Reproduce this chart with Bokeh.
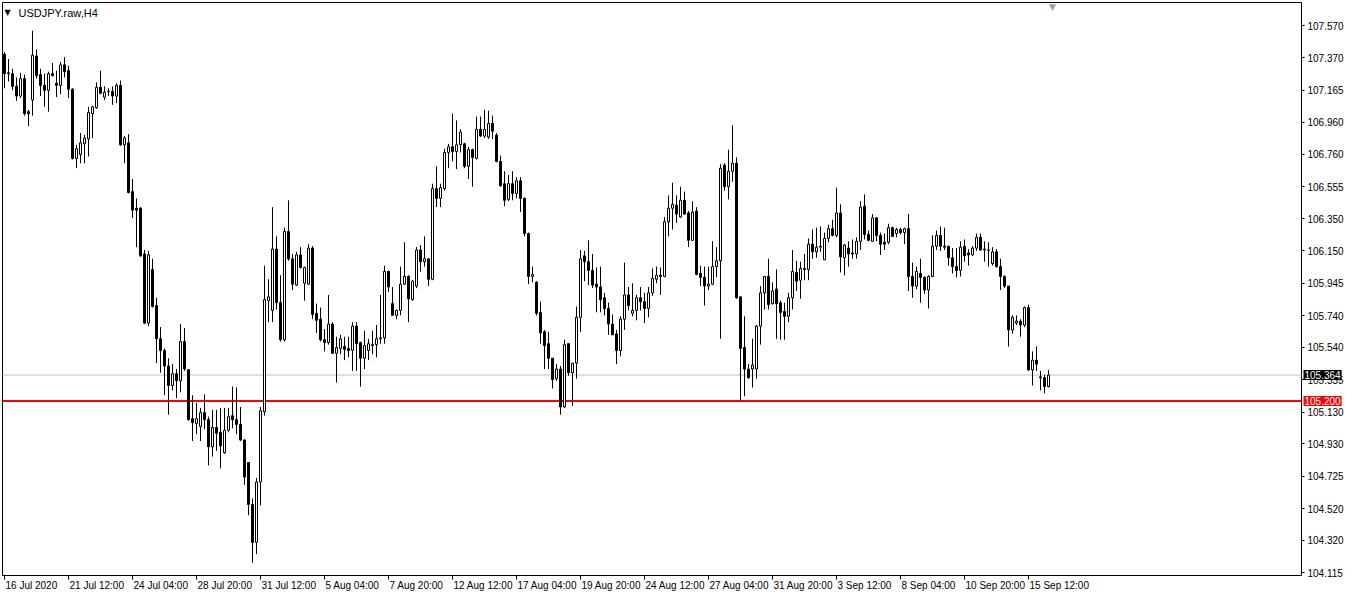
from bokeh.plotting import figure
from bokeh.models import Range1d, FixedTicker, Label, NumeralTickFormatter, BoxAnnotation
from bokeh.embed import file_html
from bokeh.resources import INLINE

symbol_title = "USDJPY.raw,H4"

opens = [107.391, 107.268, 107.268, 107.188, 107.127, 107.237, 107.028, 107.102, 107.379, 107.262,
         107.194, 107.163, 107.268, 107.207, 107.194, 107.324, 107.287, 107.170, 106.733, 106.757,
         106.825, 106.856, 107.016, 107.053, 107.182, 107.120, 107.157, 107.157, 107.127, 107.194,
         106.819, 106.831, 106.523, 106.418, 106.418, 106.129, 105.692, 106.031, 105.803, 105.593,
         105.519, 105.421, 105.298, 105.372, 105.328, 105.575, 105.398, 105.088, 105.058, 105.039,
         105.126, 105.082, 104.910, 105.033, 105.002, 104.873, 105.015, 105.107, 105.082, 105.052,
         104.953, 104.811, 104.546, 104.306, 104.688, 105.132, 105.834, 105.772, 106.160, 105.821,
         105.587, 106.271, 106.098, 105.932, 106.123, 105.944, 105.938, 106.166, 105.754, 105.717,
         105.587, 105.569, 105.686, 105.501, 105.532, 105.544, 105.532, 105.519, 105.673, 105.569,
         105.470, 105.519, 105.550, 105.556, 105.593, 105.599, 106.018, 105.815, 105.741, 105.772,
         105.938, 105.987, 105.840, 105.926, 106.154, 106.080, 106.098, 105.969, 106.542, 106.480,
         106.542, 106.770, 106.806, 106.776, 106.819, 106.825, 106.683, 106.788, 106.733, 106.917,
         106.874, 106.868, 106.954, 106.880, 106.714, 106.573, 106.474, 106.573, 106.511, 106.591,
         106.480, 106.258, 105.987, 105.950, 105.760, 105.637, 105.562, 105.470, 105.341, 105.402,
         105.162, 105.562, 105.378, 105.439, 105.729, 106.117, 106.080, 106.025, 105.938, 105.920,
         105.852, 105.784, 105.686, 105.624, 105.519, 105.717, 105.870, 105.754, 105.772, 105.852,
         105.827, 105.784, 105.883, 105.969, 105.994, 105.987, 106.332, 106.418, 106.437, 106.363,
         106.468, 106.388, 106.215, 106.400, 106.006, 105.981, 105.926, 105.938, 106.049, 106.086,
         106.690, 106.554, 106.652, 106.702, 105.858, 105.538, 105.402, 105.402, 105.402, 105.673,
         105.883, 105.987, 105.815, 105.907, 105.821, 105.766, 105.735, 105.852, 106.012, 105.963,
         106.037, 106.031, 106.191, 106.142, 106.172, 106.092, 106.227, 106.289, 106.246, 106.388,
         106.105, 106.166, 106.135, 106.129, 106.209, 106.431, 106.252, 106.209, 106.357, 106.246,
         106.203, 106.203, 106.295, 106.258, 106.283, 106.264, 106.289, 105.987, 105.926, 106.006,
         105.981, 105.901, 105.987, 106.178, 106.246, 106.178, 106.178, 106.105, 106.049, 106.025,
         106.178, 106.135, 106.123, 106.166, 106.234, 106.160, 106.154, 106.068, 106.142, 106.049,
         105.987, 105.926, 105.649, 105.692, 105.704, 105.680, 105.790, 105.396, 105.458, 105.347,
         105.347, 105.291]

highs = [107.404, 107.361, 107.299, 107.244, 107.274, 107.262, 107.040, 107.539, 107.422, 107.299,
         107.268, 107.281, 107.336, 107.287, 107.342, 107.373, 107.318, 107.176, 106.819, 106.893,
         106.880, 107.059, 107.065, 107.213, 107.287, 107.188, 107.176, 107.188, 107.207, 107.225,
         106.874, 106.886, 106.603, 106.480, 106.425, 106.154, 106.148, 106.098, 105.852, 105.667,
         105.532, 105.470, 105.433, 105.402, 105.686, 105.661, 105.402, 105.236, 105.187, 105.156,
         105.242, 105.101, 105.144, 105.144, 105.156, 105.156, 105.156, 105.291, 105.285, 105.162,
         104.959, 104.811, 104.584, 104.713, 105.162, 106.055, 105.969, 106.425, 106.240, 105.994,
         106.295, 106.468, 106.129, 106.142, 106.172, 106.049, 106.191, 106.178, 105.815, 105.790,
         105.655, 105.870, 105.698, 105.606, 105.618, 105.606, 105.606, 105.698, 105.698, 105.575,
         105.643, 105.593, 105.643, 105.680, 105.870, 106.055, 106.025, 105.920, 105.778, 106.049,
         106.203, 105.994, 105.963, 106.172, 106.185, 106.240, 106.098, 106.573, 106.683, 106.573,
         106.794, 106.825, 107.016, 106.973, 106.917, 106.831, 106.806, 106.794, 106.997, 106.997,
         107.040, 107.034, 107.003, 106.893, 106.751, 106.652, 106.628, 106.652, 106.615, 106.615,
         106.486, 106.264, 106.049, 105.957, 105.827, 105.649, 105.637, 105.470, 105.433, 105.421,
         105.587, 105.562, 105.439, 105.797, 106.154, 106.148, 106.215, 106.129, 106.043, 106.049,
         105.883, 105.821, 105.747, 105.649, 105.735, 106.074, 105.920, 105.944, 105.870, 105.920,
         105.883, 105.920, 106.037, 106.049, 106.043, 106.363, 106.499, 106.579, 106.499, 106.554,
         106.523, 106.400, 106.462, 106.425, 106.055, 106.049, 106.049, 106.209, 106.172, 106.696,
         106.702, 106.788, 106.942, 106.739, 105.858, 105.735, 105.433, 105.593, 105.680, 105.926,
         105.987, 106.098, 105.950, 106.031, 105.834, 105.821, 105.883, 106.154, 106.086, 106.080,
         106.129, 106.227, 106.283, 106.295, 106.302, 106.264, 106.314, 106.345, 106.548, 106.443,
         106.191, 106.209, 106.221, 106.234, 106.462, 106.505, 106.277, 106.381, 106.363, 106.264,
         106.258, 106.320, 106.302, 106.295, 106.295, 106.295, 106.381, 106.074, 106.049, 106.098,
         105.987, 105.994, 106.246, 106.277, 106.302, 106.295, 106.178, 106.166, 106.166, 106.209,
         106.221, 106.160, 106.178, 106.258, 106.258, 106.209, 106.203, 106.172, 106.160, 106.098,
         105.994, 105.926, 105.741, 105.741, 105.717, 105.797, 105.809, 105.513, 105.544, 105.390,
         105.365, 105.396]

lows = [107.176, 107.219, 107.163, 107.096, 107.114, 107.003, 106.936, 107.003, 107.237, 107.127,
        107.059, 107.028, 107.250, 107.120, 107.139, 107.244, 107.114, 106.726, 106.671, 106.702,
        106.702, 106.745, 106.862, 107.046, 107.139, 107.102, 107.127, 107.071, 107.083, 106.813,
        106.702, 106.511, 106.357, 106.172, 106.111, 105.686, 105.673, 105.790, 105.439, 105.378,
        105.236, 105.113, 105.267, 105.218, 105.254, 105.390, 105.076, 104.947, 104.990, 104.947,
        105.021, 104.793, 104.848, 104.885, 104.774, 104.866, 105.002, 105.027, 104.990, 104.947,
        104.670, 104.478, 104.177, 104.232, 104.540, 105.107, 105.698, 105.698, 105.778, 105.575,
        105.575, 106.086, 105.901, 105.926, 106.037, 105.834, 105.932, 105.717, 105.630, 105.575,
        105.513, 105.556, 105.501, 105.316, 105.495, 105.458, 105.476, 105.390, 105.390, 105.291,
        105.402, 105.458, 105.495, 105.476, 105.562, 105.562, 105.889, 105.741, 105.717, 105.741,
        105.932, 105.698, 105.834, 105.913, 106.018, 106.049, 105.926, 105.963, 106.425, 106.425,
        106.529, 106.671, 106.714, 106.665, 106.770, 106.671, 106.603, 106.554, 106.726, 106.868,
        106.862, 106.856, 106.856, 106.708, 106.554, 106.431, 106.462, 106.468, 106.480, 106.394,
        106.240, 105.938, 105.950, 105.741, 105.562, 105.402, 105.402, 105.279, 105.328, 105.113,
        105.156, 105.359, 105.169, 105.341, 105.637, 105.957, 105.932, 105.913, 105.760, 105.760,
        105.741, 105.618, 105.618, 105.433, 105.482, 105.649, 105.772, 105.735, 105.710, 105.772,
        105.692, 105.729, 105.864, 105.944, 105.870, 105.981, 106.240, 106.283, 106.326, 106.357,
        106.375, 106.172, 106.215, 105.994, 105.926, 105.803, 105.901, 105.932, 105.981, 105.593,
        106.529, 106.474, 106.585, 105.846, 105.205, 105.230, 105.341, 105.285, 105.341, 105.556,
        105.778, 105.778, 105.809, 105.593, 105.587, 105.587, 105.698, 105.778, 105.895, 105.846,
        105.963, 105.963, 106.098, 106.105, 106.142, 106.092, 106.203, 106.240, 106.234, 106.012,
        105.994, 106.049, 106.098, 106.098, 106.154, 106.221, 106.209, 106.209, 106.209, 106.123,
        106.154, 106.191, 106.240, 106.234, 106.252, 106.191, 105.895, 105.852, 105.907, 105.821,
        105.877, 105.784, 105.981, 106.154, 106.148, 106.154, 106.055, 106.006, 105.981, 105.987,
        106.080, 106.055, 106.117, 106.148, 106.148, 106.080, 106.049, 106.055, 106.043, 105.901,
        105.913, 105.544, 105.624, 105.680, 105.606, 105.667, 105.390, 105.298, 105.390, 105.267,
        105.248, 105.285]

closes = [107.268, 107.274, 107.188, 107.127, 107.237, 107.016, 107.016, 107.385, 107.256, 107.194,
          107.163, 107.268, 107.256, 107.194, 107.324, 107.281, 107.170, 106.733, 106.794, 106.831,
          106.862, 107.022, 107.059, 107.182, 107.145, 107.151, 107.155, 107.127, 107.194, 106.819,
          106.862, 106.517, 106.406, 106.406, 106.117, 105.692, 106.123, 105.797, 105.593, 105.519,
          105.421, 105.298, 105.372, 105.328, 105.575, 105.402, 105.082, 105.064, 105.088, 105.126,
          105.082, 104.910, 105.033, 104.996, 104.916, 105.015, 105.101, 105.082, 105.052, 104.953,
          104.719, 104.546, 104.306, 104.688, 105.138, 105.840, 105.858, 106.160, 105.821, 105.587,
          106.271, 106.098, 105.938, 106.123, 106.043, 106.043, 106.166, 105.747, 105.710, 105.587,
          105.569, 105.686, 105.501, 105.538, 105.593, 105.526, 105.519, 105.673, 105.562, 105.470,
          105.550, 105.562, 105.556, 105.593, 105.599, 106.018, 105.920, 105.741, 105.772, 105.938,
          105.987, 105.846, 105.957, 106.154, 106.080, 106.098, 105.969, 106.542, 106.480, 106.548,
          106.770, 106.806, 106.776, 106.819, 106.899, 106.683, 106.788, 106.739, 106.917, 106.874,
          106.917, 106.954, 106.905, 106.714, 106.560, 106.468, 106.573, 106.511, 106.591, 106.480,
          106.258, 105.987, 106.000, 105.754, 105.630, 105.550, 105.470, 105.335, 105.402, 105.162,
          105.556, 105.378, 105.439, 105.729, 106.098, 106.080, 106.025, 105.932, 105.920, 105.840,
          105.784, 105.686, 105.618, 105.519, 105.717, 105.870, 105.803, 105.772, 105.852, 105.827,
          105.784, 105.883, 105.975, 105.994, 105.987, 106.332, 106.418, 106.443, 106.381, 106.468,
          106.381, 106.215, 106.394, 106.000, 105.981, 105.926, 105.938, 106.049, 106.086, 106.671,
          106.554, 106.652, 106.702, 105.852, 105.532, 105.402, 105.347, 105.427, 105.673, 105.883,
          105.987, 105.809, 105.895, 105.815, 105.760, 105.735, 105.852, 106.018, 105.957, 106.037,
          106.031, 106.191, 106.142, 106.172, 106.178, 106.227, 106.289, 106.246, 106.388, 106.111,
          106.185, 106.129, 106.129, 106.209, 106.425, 106.252, 106.215, 106.357, 106.246, 106.191,
          106.191, 106.295, 106.240, 106.283, 106.264, 106.289, 105.987, 105.926, 106.018, 105.981,
          105.901, 105.987, 106.178, 106.246, 106.178, 106.172, 106.105, 106.049, 106.025, 106.172,
          106.117, 106.123, 106.166, 106.234, 106.154, 106.154, 106.151, 106.142, 106.049, 105.987,
          105.926, 105.649, 105.729, 105.704, 105.680, 105.790, 105.396, 105.458, 105.433, 105.353,
          105.291, 105.364]

# price scale labels (right axis)
price_ticks = [107.570, 107.370, 107.165, 106.960, 106.760, 106.555, 106.350, 106.150, 105.945,
               105.740, 105.540, 105.335, 105.130, 104.930, 104.725, 104.520, 104.320, 104.115]

# time scale labels, one every 16 bars
time_labels = ["16 Jul 2020", "21 Jul 12:00", "24 Jul 04:00", "28 Jul 20:00", "31 Jul 12:00",
               "5 Aug 04:00", "7 Aug 20:00", "12 Aug 12:00", "17 Aug 04:00", "19 Aug 20:00",
               "24 Aug 12:00", "27 Aug 04:00", "31 Aug 20:00", "3 Sep 12:00", "8 Sep 04:00",
               "10 Sep 20:00", "15 Sep 12:00"]
bars_per_label = 16

bid_price = 105.364
level_price = 105.200

n = len(opens)
idx = list(range(n))
tops = [max(o, c) for o, c in zip(opens, closes)]
bottoms = [min(o, c) for o, c in zip(opens, closes)]
fills = ["white" if c >= o else "black" for o, c in zip(opens, closes)]

# ---- layout geometry (canvas pixels) ----
W, H = 1346, 595
box_l_px, box_r_px = 2.0, 1301.0
box_t_px, box_b_px = 2.0, 575.0
bar_px = 4.0
# chart box in data units
x0 = -0.5
x1 = x0 + (box_r_px - box_l_px) / bar_px
y0, y1 = 104.097, 107.718
ppy = (box_b_px - box_t_px) / (y1 - y0)
# full frame covers the scale areas so every text can be drawn inside it
fx0 = x0 - box_l_px / bar_px
fx1 = x1 + (W - box_r_px) / bar_px
fy0 = y0 - (H - box_b_px) / ppy
fy1 = y1 + box_t_px / ppy

FONT = "Liberation Sans"

p = figure(width=W, height=H, output_backend="svg", toolbar_location=None,
           x_range=Range1d(fx0, fx1), y_range=Range1d(fy0, fy1),
           y_axis_location="right", x_axis_location="below",
           min_border=0, min_border_left=0, min_border_right=0,
           min_border_top=0, min_border_bottom=0)
p.grid.visible = False
p.background_fill_color = "white"
p.border_fill_color = "white"
p.outline_line_color = None

# chart frame
p.add_layout(BoxAnnotation(left=x0, right=x1, bottom=y0, top=y1, fill_alpha=0.0,
                           fill_color=None, line_color="black", line_width=1, line_alpha=1.0,
                           level="underlay"))

# horizontal price lines inside the chart frame
p.segment(x0=[x0], y0=[bid_price], x1=[x1], y1=[bid_price], line_color="#C0C0C0", line_width=1)
p.segment(x0=[x0], y0=[level_price], x1=[x1], y1=[level_price], line_color="#FF0000", line_width=2)

# wicks then bodies
p.segment(x0=idx, y0=highs, x1=idx, y1=lows, line_color="black", line_width=1)
p.vbar(x=idx, width=0.5, top=tops, bottom=bottoms, fill_color=fills,
       line_color="black", line_width=1)

# right price scale
ya = p.yaxis[0]
ya.fixed_location = x1
ya.ticker = FixedTicker(ticks=price_ticks)
ya.formatter = NumeralTickFormatter(format="0.000")
ya.major_label_text_font = FONT
ya.major_label_text_font_size = "10px"
ya.major_label_text_color = "black"
ya.major_tick_out = 3
ya.major_tick_in = 0
ya.minor_tick_out = 0
ya.minor_tick_in = 0
ya.major_label_standoff = 3
ya.axis_line_color = None
ya.major_tick_line_color = "black"

# bottom time scale: tick marks, labels left-aligned at ticks
tick_pos = [k * bars_per_label for k in range(len(time_labels))]
xa = p.xaxis[0]
xa.fixed_location = y0
xa.ticker = FixedTicker(ticks=tick_pos)
xa.major_label_overrides = {t: "" for t in tick_pos}
xa.major_tick_out = 4
xa.major_tick_in = 0
xa.minor_tick_out = 0
xa.minor_tick_in = 0
xa.axis_line_color = None
xa.major_tick_line_color = "black"

for t, lab in zip(tick_pos, time_labels):
    p.add_layout(Label(x=t, y=y0, text=lab, text_align="left", text_baseline="top",
                       x_offset=1, y_offset=-4, text_font=FONT, text_font_size="10px",
                       text_color="black"))

# price tags on the scale
p.add_layout(Label(x=x1, y=bid_price, text=f"{bid_price:.3f}", text_align="left",
                   text_baseline="middle", x_offset=2, padding=1, text_font=FONT,
                   text_font_size="10px", text_color="white",
                   background_fill_color="black", background_fill_alpha=1.0))
p.add_layout(Label(x=x1, y=level_price, text=f"{level_price:.3f}", text_align="left",
                   text_baseline="middle", x_offset=2, padding=1, text_font=FONT,
                   text_font_size="10px", text_color="white",
                   background_fill_color="#FF0000", background_fill_alpha=1.0))

# title in the corner
p.add_layout(Label(x=x0, y=y1, text="\u25bc", text_align="left", text_baseline="top",
                   x_offset=2, y_offset=-5, text_font="DejaVu Sans", text_font_size="8px",
                   text_color="black"))
p.add_layout(Label(x=x0, y=y1, text=symbol_title, text_align="left", text_baseline="top",
                   x_offset=16, y_offset=-4, text_font=FONT, text_font_size="11px",
                   text_color="black"))

# chart shift marker
p.add_layout(Label(x=n, y=y1, text="\u25bc", text_align="center", text_baseline="top",
                   y_offset=1, text_font="DejaVu Sans", text_font_size="9px",
                   text_color="#A0A0A0"))

open("out.html", "w").write(file_html(p, INLINE))
